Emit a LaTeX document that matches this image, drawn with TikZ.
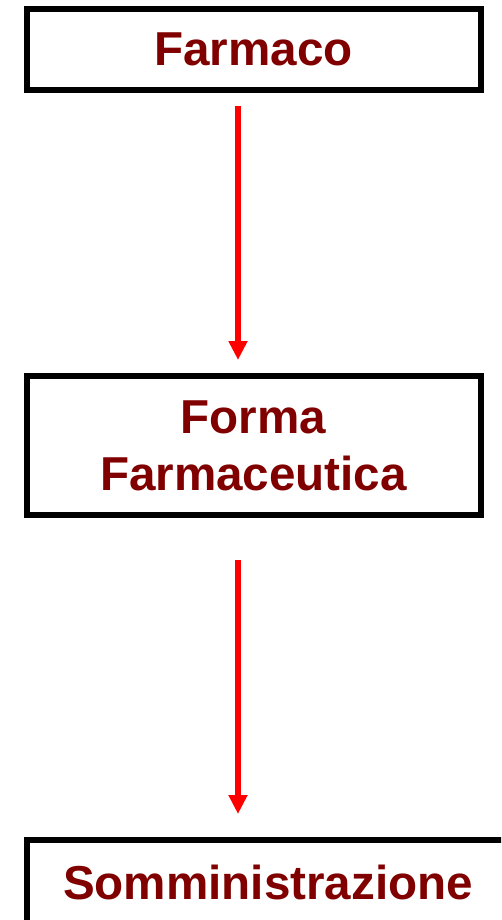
\documentclass[tikz,border=0pt]{standalone}
\usepackage{fontspec}
\setmainfont{Liberation Sans}
\usetikzlibrary{arrows.meta}
\definecolor{testo}{HTML}{800000}
\begin{document}
\begin{tikzpicture}[x=1pt,y=-1pt,
  blocco/.style={draw=black,line width=6pt,inner sep=0pt,align=center,text=testo,
    font=\fontsize{47.6}{57}\selectfont\bfseries},
  freccia/.style={red,line width=6pt,-{Triangle[length=19pt,width=18pt]}}]
\useasboundingbox (0,0) rectangle (501,920);
\clip (0,0) rectangle (501,920);
\node[blocco,minimum width=454pt,minimum height=80.5pt] (F) at (253.5,49.5) {Farmaco};
\node[blocco,minimum width=454pt,minimum height=139pt] (FF) at (253.5,445.5) {Forma\\Farmaceutica};
\node[blocco,minimum width=483pt,minimum height=85pt] (S) at (268,882.5) {Somministrazione};
\draw[freccia,shorten <=13.5pt,shorten >=13pt] (F.south -| 238,0) -- (FF.north -| 238,0);
\draw[freccia,shorten <=42pt,shorten >=23pt] (FF.south -| 238,0) -- (S.north -| 238,0);
\end{tikzpicture}
\end{document}
